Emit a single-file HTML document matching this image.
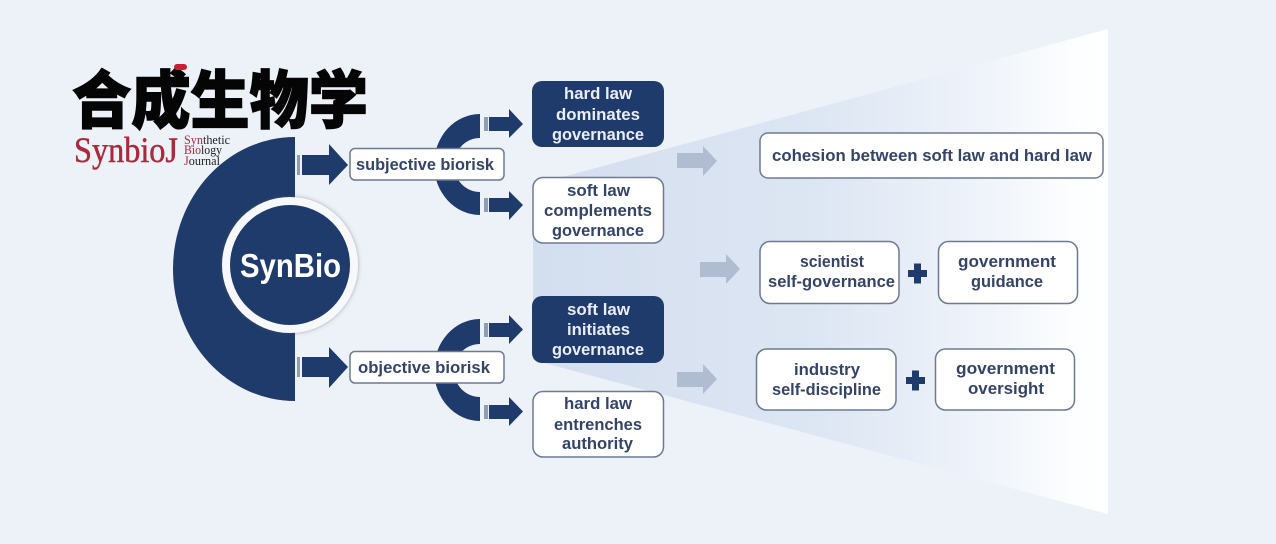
<!DOCTYPE html>
<html><head><meta charset="utf-8"><style>
html,body{margin:0;padding:0;background:#edf2f9;width:1276px;height:544px;overflow:hidden}
svg{display:block;filter:blur(.35px)}
.t{font-family:"Liberation Sans","Noto Sans CJK SC",sans-serif;font-weight:700;font-size:16.5px;fill:#344467}
.w{fill:#e9eef6}
.bx{fill:#fff;stroke:#6d7a90;stroke-width:1.5}
.dk{fill:#1f3b6b}
</style></head><body>
<svg width="1276" height="544" viewBox="0 0 1276 544" xmlns="http://www.w3.org/2000/svg">
<defs>
<linearGradient id="fan" x1="533" x2="1108" y1="0" y2="0" gradientUnits="userSpaceOnUse">
<stop offset="0" stop-color="#d3deef"/><stop offset=".5" stop-color="#dde6f3"/><stop offset=".78" stop-color="#eff3fa"/><stop offset=".95" stop-color="#fdfeff"/><stop offset="1" stop-color="#fff"/>
</linearGradient>
<filter id="sh" x="-20%" y="-20%" width="140%" height="140%"><feDropShadow dx="0" dy="0" stdDeviation="2" flood-color="#555" flood-opacity=".5"/></filter>
</defs>
<rect width="1276" height="544" fill="#edf2f9"/>
<polygon points="533,185 1108,29 1108,514 533,360" fill="url(#fan)"/>

<!-- half disc -->
<path class="dk" d="M295,137 A122,132 0 0 0 295,401 Z"/>
<circle cx="290" cy="265" r="68" fill="#f6f8fb" filter="url(#sh)"/>
<circle cx="290" cy="265" r="60" class="dk"/>
<text x="240" y="277" textLength="101" lengthAdjust="spacingAndGlyphs" font-family="Liberation Sans, sans-serif" font-weight="700" font-size="33" fill="#fff">SynBio</text>

<!-- large arrows -->
<g class="dk">
<polygon points="302,155 329,155 329,144 348,165 329,185 329,175 302,175"/>
<polygon points="302,357 329,357 329,347 348,367 329,388 329,377 302,377"/>
</g>
<rect x="297" y="155" width="3" height="20" fill="#8f9cb4"/>
<rect x="297" y="357" width="3" height="20" fill="#8f9cb4"/>

<!-- C arcs -->
<path class="dk" fill-rule="evenodd" d="M480,114 A46,50.5 0 0 0 480,215 L480,192 A26,27 0 0 1 480,138 Z"/>
<path class="dk" fill-rule="evenodd" d="M480,319 A46,51 0 0 0 480,421 L480,397 A26,26.5 0 0 1 480,344 Z"/>

<!-- small arrows -->
<g class="dk">
<polygon points="489,117 509,117 509,109 523,124 509,138 509,131 489,131"/>
<polygon points="489,198 509,198 509,191 523,205 509,220 509,212 489,212"/>
<polygon points="489,323 509,323 509,315 523,329.500 509,344 509,337 489,337"/>
<polygon points="489,405 509,405 509,397 523,411.500 509,426 509,419 489,419"/>
</g>
<g fill="#8f9cb4">
<rect x="484" y="117" width="4" height="14"/><rect x="484" y="198" width="4" height="14"/>
<rect x="484" y="323" width="4" height="14"/><rect x="484" y="405" width="4" height="14"/>
</g>

<!-- gray arrows -->
<g fill="#b0bccf">
<polygon points="677,153 703,153 703,146 717,161 703,176 703,168 677,168"/>
<polygon points="700,262 726,262 726,254 740,269 726,284 726,277 700,277"/>
<polygon points="677,372 703,372 703,364 717,379 703,394 703,387 677,387"/>
</g>

<!-- boxes -->
<rect class="bx" x="350" y="148.500" width="154" height="31.500" rx="5"/>
<rect class="bx" x="350" y="351.500" width="154" height="31.500" rx="5"/>
<rect class="dk" x="532" y="81" width="132" height="66" rx="10"/>
<rect class="bx" x="533" y="177.500" width="130.500" height="65.500" rx="10"/>
<rect class="dk" x="532" y="296" width="132" height="67" rx="10"/>
<rect class="bx" x="533" y="391.500" width="130.500" height="65.500" rx="10"/>
<rect class="bx" x="760" y="133" width="343" height="45" rx="8"/>
<rect class="bx" x="760" y="241.500" width="139" height="62" rx="10"/>
<rect class="bx" x="938.500" y="241.500" width="139" height="62" rx="10"/>
<rect class="bx" x="756.500" y="349" width="139.500" height="61" rx="10"/>
<rect class="bx" x="935.500" y="349" width="139" height="61" rx="10"/>

<!-- plus signs -->
<g class="dk">
<rect x="908" y="270" width="19" height="7"/><rect x="914" y="263.500" width="7" height="20"/>
<rect x="906" y="377" width="19" height="7"/><rect x="912" y="370.500" width="7" height="20"/>
</g>

<!-- labels -->
<text class="t" x="356" y="170" textLength="138" lengthAdjust="spacingAndGlyphs">subjective biorisk</text>
<text class="t" x="358" y="373" textLength="132" lengthAdjust="spacingAndGlyphs">objective biorisk</text>

<text class="t w" x="564" y="99" textLength="68" lengthAdjust="spacingAndGlyphs">hard law</text>
<text class="t w" x="556" y="120" textLength="84" lengthAdjust="spacingAndGlyphs">dominates</text>
<text class="t w" x="552" y="140" textLength="92" lengthAdjust="spacingAndGlyphs">governance</text>

<text class="t" x="567" y="196" textLength="63" lengthAdjust="spacingAndGlyphs">soft law</text>
<text class="t" x="544" y="216" textLength="108" lengthAdjust="spacingAndGlyphs">complements</text>
<text class="t" x="552" y="236" textLength="92" lengthAdjust="spacingAndGlyphs">governance</text>

<text class="t w" x="567" y="315" textLength="63" lengthAdjust="spacingAndGlyphs">soft law</text>
<text class="t w" x="567" y="335" textLength="63" lengthAdjust="spacingAndGlyphs">initiates</text>
<text class="t w" x="552" y="355" textLength="92" lengthAdjust="spacingAndGlyphs">governance</text>

<text class="t" x="564" y="409" textLength="68" lengthAdjust="spacingAndGlyphs">hard law</text>
<text class="t" x="554" y="430" textLength="88" lengthAdjust="spacingAndGlyphs">entrenches</text>
<text class="t" x="562" y="449" textLength="71" lengthAdjust="spacingAndGlyphs">authority</text>

<text class="t" x="772" y="161" textLength="320" lengthAdjust="spacingAndGlyphs">cohesion between soft law and hard law</text>
<text class="t" x="800" y="267" textLength="64" lengthAdjust="spacingAndGlyphs">scientist</text>
<text class="t" x="768" y="287" textLength="127" lengthAdjust="spacingAndGlyphs">self-governance</text>
<text class="t" x="958" y="267" textLength="98" lengthAdjust="spacingAndGlyphs">government</text>
<text class="t" x="971" y="287" textLength="72" lengthAdjust="spacingAndGlyphs">guidance</text>
<text class="t" x="794" y="375" textLength="66" lengthAdjust="spacingAndGlyphs">industry</text>
<text class="t" x="772" y="395" textLength="109" lengthAdjust="spacingAndGlyphs">self-discipline</text>
<text class="t" x="956" y="374" textLength="99" lengthAdjust="spacingAndGlyphs">government</text>
<text class="t" x="968" y="394" textLength="76" lengthAdjust="spacingAndGlyphs">oversight</text>

<!-- logo -->
<text x="72" y="123" textLength="296" lengthAdjust="spacingAndGlyphs" font-family="Liberation Sans, Noto Sans CJK SC, sans-serif" font-weight="900" font-size="63" fill="#050505" stroke="#050505" stroke-width="1.4">合成生物学</text>
<rect x="174" y="64" width="13" height="6" rx="3" fill="#c8202f"/>
<text x="74" y="162" textLength="104" lengthAdjust="spacingAndGlyphs" font-family="Liberation Serif, serif" font-size="36" fill="#a92a3c" stroke="#a92a3c" stroke-width=".5">SynbioJ</text>
<g font-family="Liberation Serif, serif" font-size="12.500">
<text x="184" y="144" textLength="46" lengthAdjust="spacingAndGlyphs"><tspan fill="#a92a3c">Syn</tspan><tspan fill="#222">thetic</tspan></text>
<text x="184" y="154" textLength="38" lengthAdjust="spacingAndGlyphs"><tspan fill="#a92a3c">Bio</tspan><tspan fill="#222">logy</tspan></text>
<text x="184" y="165" textLength="36" lengthAdjust="spacingAndGlyphs"><tspan fill="#a92a3c">J</tspan><tspan fill="#222">ournal</tspan></text>
</g>
</svg>
</body></html>
